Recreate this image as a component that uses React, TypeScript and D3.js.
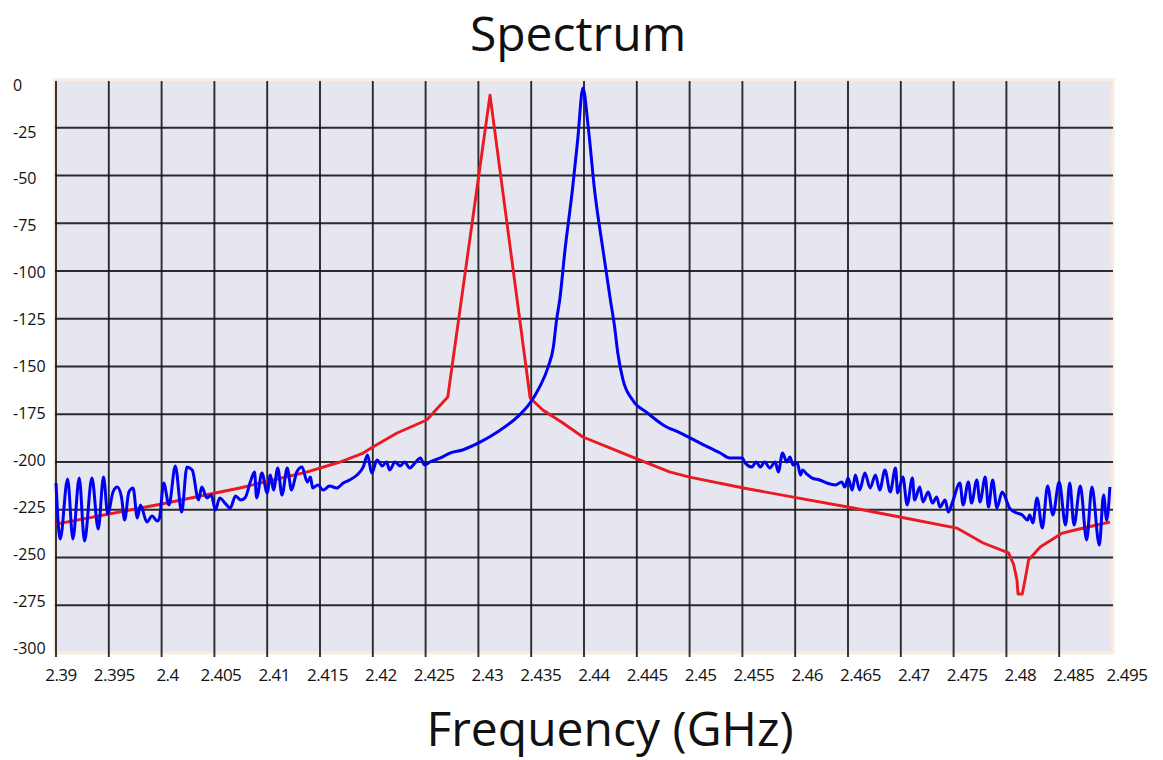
import React from 'react'
import * as d3 from 'd3'

// x tick values (GHz) and the labels printed under them
const gridFreqs = d3.range(0, 20).map((i) => +(2.39 + i * 0.005).toFixed(3))
const xLabels = [
  '2.39', '2.395', '2.4', '2.405', '2.41', '2.415', '2.42', '2.425', '2.43', '2.435', '2.44',
  '2.445', '2.45', '2.455', '2.46', '2.465', '2.47', '2.475', '2.48', '2.485', '2.495',
]
const yTicks = [0, -25, -50, -75, -100, -125, -150, -175, -200, -225, -250, -275, -300]

// red trace: [frequency GHz, level]
const redTrace: [number, number][] = [
  [2.39, -232.5], [2.4, -222.0], [2.4074, -213.6], [2.4106, -209.4], [2.4138, -205.2],
  [2.4169, -200.0], [2.4191, -195.3], [2.42, -192.1], [2.4223, -184.8], [2.4251, -178.0],
  [2.4271, -166.0], [2.4311, -7.9], [2.4349, -166.5], [2.4361, -172.8], [2.438, -179.6],
  [2.4399, -186.9], [2.4425, -192.7], [2.4453, -199.0], [2.4481, -205.2], [2.45, -207.9],
  [2.4551, -213.6], [2.4602, -218.8], [2.4655, -224.1], [2.4699, -228.8], [2.4753, -234.6],
  [2.4778, -242.4], [2.4802, -247.6], [2.4807, -253.9], [2.481, -261.8], [2.4811, -269.1],
  [2.4815, -269.1], [2.4818, -260.7], [2.4821, -251.3], [2.4832, -244.5], [2.4853, -237.2],
  [2.4865, -235.6], [2.4898, -231.4],
]

// blue trace: [frequency GHz, level]
const blueTrace: [number, number][] = [
  [2.39, -211.0], [2.3904, -240.3], [2.3911, -208.9], [2.3916, -240.3], [2.3922, -208.4],
  [2.3927, -241.4], [2.3934, -208.4], [2.394, -235.1], [2.3945, -207.9], [2.3949, -227.2],
  [2.3954, -215.7], [2.3958, -213.1], [2.3962, -218.3], [2.3965, -230.4], [2.3969, -215.7],
  [2.3973, -213.6], [2.3977, -229.3], [2.398, -222.5], [2.3986, -231.4], [2.3991, -228.3],
  [2.3996, -230.9], [2.3998, -229.3], [2.4002, -211.0], [2.4007, -222.5], [2.4013, -202.1],
  [2.4019, -226.2], [2.4024, -202.6], [2.4029, -204.2], [2.4035, -219.9], [2.4038, -213.1],
  [2.4043, -218.8], [2.4047, -217.3], [2.4051, -225.1], [2.4055, -218.8], [2.406, -221.5],
  [2.4065, -224.1], [2.407, -217.8], [2.4075, -219.9], [2.4079, -218.8], [2.4084, -210.5],
  [2.4088, -205.2], [2.409, -218.8], [2.4095, -205.8], [2.41, -216.2], [2.4103, -206.8],
  [2.4106, -214.7], [2.411, -203.1], [2.4114, -217.3], [2.4119, -203.1], [2.4123, -214.7],
  [2.4128, -205.2], [2.4133, -202.6], [2.4138, -210.5], [2.4141, -207.9], [2.4143, -213.6],
  [2.4148, -212.0], [2.4153, -214.7], [2.4159, -212.6], [2.4166, -213.6], [2.4172, -211.0],
  [2.4178, -209.4], [2.4185, -206.8], [2.4191, -202.6], [2.4195, -196.3], [2.4199, -205.8],
  [2.4204, -199.0], [2.4209, -202.1], [2.4213, -200.0], [2.4216, -204.2], [2.4221, -200.0],
  [2.4226, -202.1], [2.423, -200.0], [2.4235, -203.1], [2.424, -200.5], [2.4245, -197.9],
  [2.4249, -201.6], [2.4254, -200.0], [2.4264, -197.9], [2.4273, -195.3], [2.4285, -193.7],
  [2.4302, -189.5], [2.4318, -184.3], [2.4337, -176.4], [2.4349, -169.1], [2.4358, -160.7],
  [2.4366, -150.3], [2.4371, -139.8], [2.4374, -125.7], [2.4377, -115.2], [2.4382, -89.0],
  [2.4389, -57.6], [2.4394, -31.4], [2.4399, -4.2], [2.4404, -24.6], [2.441, -57.6],
  [2.4418, -89.0], [2.4425, -115.2], [2.4429, -129.3], [2.4432, -142.9], [2.4437, -157.1],
  [2.4446, -167.5], [2.446, -174.3], [2.4475, -180.6], [2.4491, -184.8], [2.451, -190.1],
  [2.4529, -195.3], [2.4538, -197.9], [2.455, -197.9], [2.4552, -200.0], [2.4559, -202.6],
  [2.4563, -200.0], [2.4567, -202.6], [2.4571, -200.0], [2.4576, -203.1], [2.4581, -200.0],
  [2.4584, -205.2], [2.4588, -195.3], [2.4592, -200.0], [2.4595, -197.4], [2.4598, -201.6],
  [2.4602, -200.5], [2.4605, -206.8], [2.4607, -204.2], [2.4611, -206.3], [2.4616, -208.4],
  [2.4623, -209.4], [2.463, -211.0], [2.4638, -212.0], [2.4644, -210.5], [2.4647, -213.1],
  [2.465, -208.4], [2.4654, -214.7], [2.4657, -206.8], [2.4661, -214.7], [2.4666, -205.8],
  [2.4671, -213.6], [2.4676, -206.8], [2.468, -214.7], [2.4685, -204.2], [2.469, -215.7],
  [2.4695, -203.1], [2.4697, -216.2], [2.4702, -207.9], [2.4706, -222.5], [2.4711, -208.4],
  [2.4713, -219.9], [2.4718, -213.1], [2.4721, -220.9], [2.4726, -215.7], [2.473, -221.5],
  [2.4734, -218.3], [2.4737, -223.6], [2.4742, -219.9], [2.4745, -226.2], [2.4749, -220.9],
  [2.4756, -211.0], [2.4759, -222.5], [2.4764, -210.5], [2.4767, -221.5], [2.4772, -209.4],
  [2.4775, -220.9], [2.478, -207.9], [2.4783, -223.6], [2.4787, -209.4], [2.4791, -224.1],
  [2.4796, -215.7], [2.4801, -221.5], [2.4803, -224.1], [2.481, -226.7], [2.4815, -227.7],
  [2.482, -230.4], [2.4822, -227.7], [2.4825, -231.9], [2.4829, -218.8], [2.4834, -234.6],
  [2.4839, -212.6], [2.4844, -227.7], [2.485, -210.5], [2.4856, -233.0], [2.486, -211.0],
  [2.4864, -233.0], [2.487, -212.6], [2.4876, -240.8], [2.4881, -213.1], [2.4888, -243.5],
  [2.4892, -217.3], [2.4895, -230.4], [2.4898, -213.1],
]

const W = 1163
const H = 760
const plot = { left: 55, right: 1113, top: 80, bottom: 653 }
const font = '"Open Sans", "Noto Sans", sans-serif'

export default function App() {
  const x = d3.scaleLinear().domain([2.39, 2.49]).range([plot.left + 1, plot.right - 1])
  const y = d3.scaleLinear().domain([0, -300]).range([plot.top, plot.bottom])
  // labels sit slightly off the grid in the original
  const xLab = d3.scalePoint<string>().domain(xLabels).range([61, 1127])
  const yLab = d3.scaleLinear().domain([0, -300]).range([85, 648])

  const redLine = d3
    .line<[number, number]>()
    .x((d) => x(d[0]))
    .y((d) => y(d[1]))
  const blueLine = d3
    .line<[number, number]>()
    .curve(d3.curveMonotoneX)
    .x((d) => x(d[0]))
    .y((d) => y(d[1]))

  return (
    <svg width={W} height={H} style={{ position: 'absolute', left: 0, top: 0, background: '#fff' }}>
      <text x={578} y={51} textAnchor="middle" fontFamily={font} fontSize={48} fill="#111">
        Spectrum
      </text>

      <rect
        x={plot.left}
        y={plot.top}
        width={plot.right - plot.left}
        height={plot.bottom - plot.top}
        fill="#e6e6f0"
        stroke="#fcece0"
        strokeWidth={3}
      />

      {/* horizontal grid */}
      {yTicks.slice(1, -1).map((v) => (
        <line
          key={'h' + v}
          x1={plot.left}
          x2={plot.right}
          y1={y(v)}
          y2={y(v)}
          stroke="#15151a"
          strokeWidth={1.9}
          strokeOpacity={0.9}
        />
      ))}

      {/* vertical grid */}
      {gridFreqs.map((f) => (
        <line
          key={'v' + f}
          x1={x(f)}
          x2={x(f)}
          y1={plot.top + 1}
          y2={plot.bottom + 4}
          stroke="#15151a"
          strokeWidth={1.9}
          strokeOpacity={0.9}
        />
      ))}

      <path d={redLine(redTrace) ?? ''} fill="none" stroke="#ea1a22" strokeWidth={2.9} strokeLinejoin="round" />
      <path d={blueLine(blueTrace) ?? ''} fill="none" stroke="#0000f2" strokeWidth={3} strokeLinejoin="round" />

      {yTicks.map((v) => (
        <text
          key={'yl' + v}
          x={13}
          y={yLab(v)}
          dy="0.35em"
          fontFamily={font}
          fontSize={16}
          fontWeight={500}
          fill="#111"
        >
          {v}
        </text>
      ))}

      {xLabels.map((l) => (
        <text
          key={'xl' + l}
          x={xLab(l)}
          y={681}
          textAnchor="middle"
          fontFamily={font}
          fontSize={17}
          fontWeight={500}
          letterSpacing={-0.5}
          fill="#111"
        >
          {l}
        </text>
      ))}

      <text x={610} y={746} textAnchor="middle" fontFamily={font} fontSize={48} fill="#111">
        Frequency (GHz)
      </text>
    </svg>
  )
}
